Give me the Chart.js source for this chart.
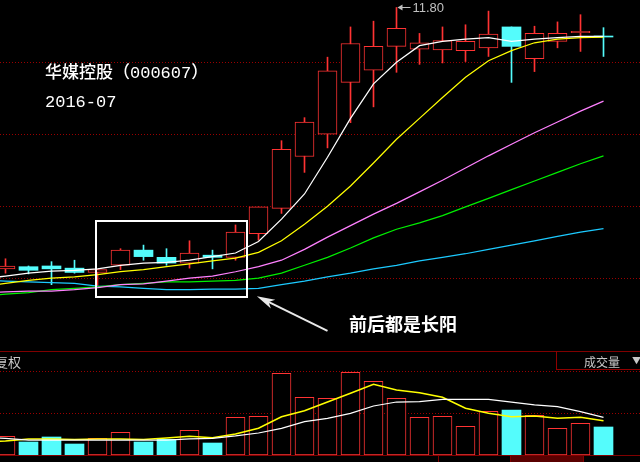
<!DOCTYPE html>
<html>
<head>
<meta charset="utf-8">
<script src="https://cdn.jsdelivr.net/npm/chart.js@4.4.1/dist/chart.umd.min.js"></script>
<style>
html,body{margin:0;padding:0;background:#000;}
#stage{position:relative;width:640px;height:462px;overflow:hidden;background:#000;}
.cv{position:absolute;left:0;}
#mainBox{top:0;width:640px;height:351px;}
#volBox{top:351px;width:640px;height:104px;}
.title{position:absolute;left:45px;color:#fff;font-family:"Liberation Mono","Noto Sans CJK SC",monospace;font-size:17px;line-height:20px;white-space:nowrap;font-weight:500;}
.hline{position:absolute;left:0;width:640px;height:1px;background:#800000;}
.grey{position:absolute;color:#c8c8c8;font-family:"Noto Sans CJK SC",sans-serif;white-space:nowrap;}
#volBtn{position:absolute;left:556px;top:351px;width:90px;height:18px;border-left:1px solid #900000;border-bottom:1px solid #900000;}
.tab{position:absolute;top:456px;height:8px;border-left:1px solid #800000;border-right:1px solid #800000;}
</style>
</head>
<body>
<div id="stage">
  <div class="cv" id="mainBox"><canvas id="main"></canvas></div>
  <div class="cv" id="volBox"><canvas id="vol"></canvas></div>
  <div class="title" style="top:64px">华媒控股（000607）</div>
  <div class="title" style="top:93px">2016-07</div>
  <div class="hline" style="top:351px"></div>
  <div class="grey" style="left:-5px;top:353px;font-size:13px;line-height:18px;">复权</div>
  <div id="volBtn"></div>
  <div class="grey" style="left:584px;top:353px;font-size:12px;line-height:17px;">成交量</div>
  <div class="grey" style="left:632px;top:354px;font-size:9px;line-height:14px;">▼</div>
  <div class="hline" style="top:455px"></div>
  <div class="tab" style="left:438px;width:71px;"></div>
  <div class="tab" style="left:510px;width:72px;background:#5a0000;"></div>
</div>
<script>
// ---- data ----
const dayIndex = [-1,0,1,2,3,4,5,6,7,8,9,10,11,12,13,14,15,16,17,18,19,20,21,22,23,24,25,26];
const openP  = [null,8.17,8.20,8.21,8.18,8.12,8.22,8.43,8.33,8.25,8.36,8.33,8.66,9.01,9.73,10.04,10.76,10.93,11.26,11.22,11.21,11.20,11.24,11.53,11.09,11.33,11.45,11.39];
const highP  = [null,8.31,8.21,8.27,8.29,8.16,8.45,8.50,8.45,8.56,8.43,8.78,9.03,9.95,10.27,11.11,11.53,11.61,11.80,11.44,11.53,11.56,11.75,11.53,11.54,11.60,11.70,11.52];
const lowP   = [null,8.11,8.10,7.95,8.11,7.94,8.16,8.29,8.22,8.18,8.17,8.29,8.57,8.94,9.51,9.85,10.20,10.42,10.90,11.01,11.03,11.05,11.12,10.76,10.91,11.24,11.19,11.12];
const closeP = [null,8.21,8.15,8.17,8.12,8.16,8.43,8.34,8.25,8.39,8.33,8.68,9.03,9.83,10.21,10.92,11.30,11.26,11.51,11.31,11.34,11.33,11.43,11.26,11.44,11.44,11.47,11.39];
const ma5    = [8.03,8.07,8.11,8.14,8.15,8.17,8.22,8.25,8.26,8.29,8.34,8.39,8.55,8.86,9.21,9.72,10.26,10.74,11.04,11.27,11.33,11.36,11.38,11.33,11.36,11.38,11.40,11.40];
const ma10   = [7.92,7.97,8.01,8.04,8.06,8.09,8.13,8.16,8.20,8.24,8.28,8.32,8.40,8.56,8.79,9.04,9.32,9.64,9.97,10.26,10.55,10.83,11.06,11.20,11.31,11.36,11.38,11.39];
const ma20   = [7.83,7.85,7.86,7.86,7.88,7.91,7.95,7.96,8.00,8.04,8.07,8.13,8.20,8.29,8.44,8.61,8.77,8.93,9.08,9.24,9.40,9.57,9.74,9.90,10.06,10.21,10.36,10.50];
const ma30   = [7.79,7.82,7.84,7.88,7.90,7.92,7.95,7.97,7.99,7.99,8.00,8.01,8.04,8.11,8.22,8.33,8.46,8.60,8.72,8.81,8.91,9.03,9.15,9.27,9.39,9.51,9.63,9.74];
const ma60   = [8.01,8.00,7.99,7.98,7.97,7.93,7.92,7.90,7.88,7.88,7.89,7.89,7.90,7.95,8.00,8.06,8.11,8.17,8.22,8.28,8.33,8.38,8.44,8.50,8.56,8.62,8.68,8.73];
const volume = [null,4.51,3.13,4.34,2.65,4.02,5.47,3.13,3.78,5.95,2.89,9.08,9.33,19.69,13.90,13.66,19.93,17.76,13.66,9.08,9.33,6.92,10.53,10.84,9.57,6.43,7.64,6.75];
const volMa5 = [3.13,3.37,3.86,3.86,3.73,3.86,3.86,3.73,4.10,4.51,4.17,5.06,6.43,9.23,10.67,12.77,14.87,17.04,15.66,15.01,13.90,11.25,10.05,9.23,9.40,8.84,9.08,8.27];
const volMa10= [4.22,4.02,3.61,3.61,3.61,3.61,3.61,3.61,3.61,3.86,4.02,4.58,5.30,6.43,8.02,8.84,10.05,11.81,12.77,12.84,13.42,13.42,13.42,12.77,12.05,11.64,10.43,9.08];
const priceGrid = [8.03,9.03,10.03,11.03];
const volGrid = [10.1,20];
const annotationText = '前后都是长阳';
const boxRange = {x:[3.89,10.54], y:[8.85,7.77]};
const arrowFrom = [14.0,7.31], arrowTo = [10.93,7.79];
const textAt = [14.93,7.40];

// ---- styles ----
const RED='#ff3333', CYAN='#54fcfc';
const GRID='#9a0000';
const XMIN=-5.5/23, XMAX=(640-5.5)/23;

const isUp = k => closeP[k] > openP[k] || (closeP[k] === openP[k] && closeP[k] >= (closeP[k-1] ?? closeP[k]));
const ks = dayIndex.map((d,k)=>k).filter(k=>openP[k]!==null);
const upFlags = ks.map(isUp);

const lineDs = (data,color,label,w)=>({type:'line',label,data:dayIndex.map((d,k)=>({x:d,y:data[k]})),borderColor:color,borderWidth:w||1.25,pointRadius:0,tension:0,order:0});

const xScale = {type:'linear',min:XMIN,max:XMAX,display:false,offset:false};
function yScale(min,max,grid){
  return {type:'linear',min,max,
    afterBuildTicks:s=>{s.ticks=grid.map(v=>({value:v}));},
    afterFit:s=>{s.width=0;},
    ticks:{display:false},
    grid:{color:GRID,drawTicks:false,lineWidth:1},
    border:{display:false,dash:[1,2]}};
}

const annot = {
  id:'annot',
  afterDatasetsDraw(chart){
    const {ctx, scales:{x,y}} = chart;
    ctx.save();
    const bx0=Math.round(x.getPixelForValue(boxRange.x[0])), bx1=Math.round(x.getPixelForValue(boxRange.x[1]));
    const by0=Math.round(y.getPixelForValue(boxRange.y[0])), by1=Math.round(y.getPixelForValue(boxRange.y[1]));
    ctx.strokeStyle='#ffffff'; ctx.lineWidth=2;
    ctx.strokeRect(bx0+1,by0+1,bx1-bx0-2,by1-by0-2);
    const ax0=x.getPixelForValue(arrowFrom[0]), ay0=y.getPixelForValue(arrowFrom[1]);
    const ax1=x.getPixelForValue(arrowTo[0]), ay1=y.getPixelForValue(arrowTo[1]);
    const ang=Math.atan2(ay1-ay0, ax1-ax0);
    const L=18, W=5;
    ctx.strokeStyle='#e8e8e8'; ctx.fillStyle='#e8e8e8'; ctx.lineWidth=2;
    ctx.beginPath(); ctx.moveTo(ax0,ay0);
    ctx.lineTo(ax1-Math.cos(ang)*10, ay1-Math.sin(ang)*10); ctx.stroke();
    ctx.beginPath();
    ctx.moveTo(ax1,ay1);
    ctx.lineTo(ax1-Math.cos(ang)*L+Math.sin(ang)*W, ay1-Math.sin(ang)*L-Math.cos(ang)*W);
    ctx.lineTo(ax1-Math.cos(ang)*(L-5), ay1-Math.sin(ang)*(L-5));
    ctx.lineTo(ax1-Math.cos(ang)*L-Math.sin(ang)*W, ay1-Math.sin(ang)*L+Math.cos(ang)*W);
    ctx.closePath(); ctx.fill();
    ctx.fillStyle='#ffffff';
    ctx.font='bold 18px "Noto Sans CJK SC", sans-serif';
    ctx.textBaseline='middle'; ctx.textAlign='left';
    ctx.fillText(annotationText, x.getPixelForValue(textAt[0]), y.getPixelForValue(textAt[1]));
    let hk=1; highP.forEach((h,k)=>{ if(h!==null && h>highP[hk]) hk=k; });
    const hx=x.getPixelForValue(dayIndex[hk]), hy=Math.round(y.getPixelForValue(highP[hk]))+0.5;
    ctx.strokeStyle='#c0c0c0'; ctx.fillStyle='#c0c0c0'; ctx.lineWidth=1;
    ctx.beginPath(); ctx.moveTo(hx+3,hy); ctx.lineTo(hx+14,hy); ctx.stroke();
    ctx.beginPath(); ctx.moveTo(hx+1,hy); ctx.lineTo(hx+6,hy-3); ctx.lineTo(hx+6,hy+3); ctx.closePath(); ctx.fill();
    ctx.font='13px "Liberation Sans", Arial, sans-serif';
    ctx.fillText(highP[hk].toFixed(2), hx+16, hy+0.5);
    ctx.restore();
  }
};

const common = {responsive:true,maintainAspectRatio:false,animation:false,events:[],
  layout:{padding:0},plugins:{legend:{display:false},tooltip:{enabled:false}}};

new Chart(document.getElementById('main'),{
  type:'bar',
  data:{datasets:[
    lineDs(ma5,'#ffffff','MA5'),
    lineDs(ma10,'#ffff00','MA10'),
    lineDs(ma20,'#ff80ff','MA20'),
    lineDs(ma30,'#00f000','MA30'),
    lineDs(ma60,'#1ccaff','MA60'),
    {label:'body',data:ks.map(k=>({x:dayIndex[k],y:[openP[k],closeP[k]]})),
     backgroundColor:upFlags.map(u=>u?'#000000':CYAN),
     borderColor:upFlags.map(u=>u?RED:CYAN),
     borderWidth:upFlags.map(u=>u?1:0),
     borderSkipped:false,barThickness:19,minBarLength:1,grouped:false,order:1},
    {label:'wick',data:ks.map(k=>({x:dayIndex[k],y:[lowP[k],highP[k]]})),
     backgroundColor:upFlags.map(u=>u?RED:CYAN),borderWidth:0,
     barThickness:1,grouped:false,order:2}
  ]},
  options:{...common,scales:{x:xScale,y:yScale(11.80-343.5/72,11.80+7.5/72,priceGrid)}},
  plugins:[annot]
});

new Chart(document.getElementById('vol'),{
  type:'bar',
  data:{datasets:[
    lineDs(volMa10,'#ffffff','VMA10'),
    lineDs(volMa5,'#ffff00','VMA5',1.6),
    {label:'vol',data:ks.map(k=>({x:dayIndex[k],y:volume[k]})),
     backgroundColor:upFlags.map(u=>u?'#000000':CYAN),
     borderColor:upFlags.map(u=>u?RED:CYAN),
     borderWidth:upFlags.map(u=>u?1:0),
     borderSkipped:false,barThickness:19,grouped:false,order:1}
  ]},
  options:{...common,scales:{x:xScale,y:yScale(0,104/4.15,volGrid)}}
});
</script>
</body>
</html>
